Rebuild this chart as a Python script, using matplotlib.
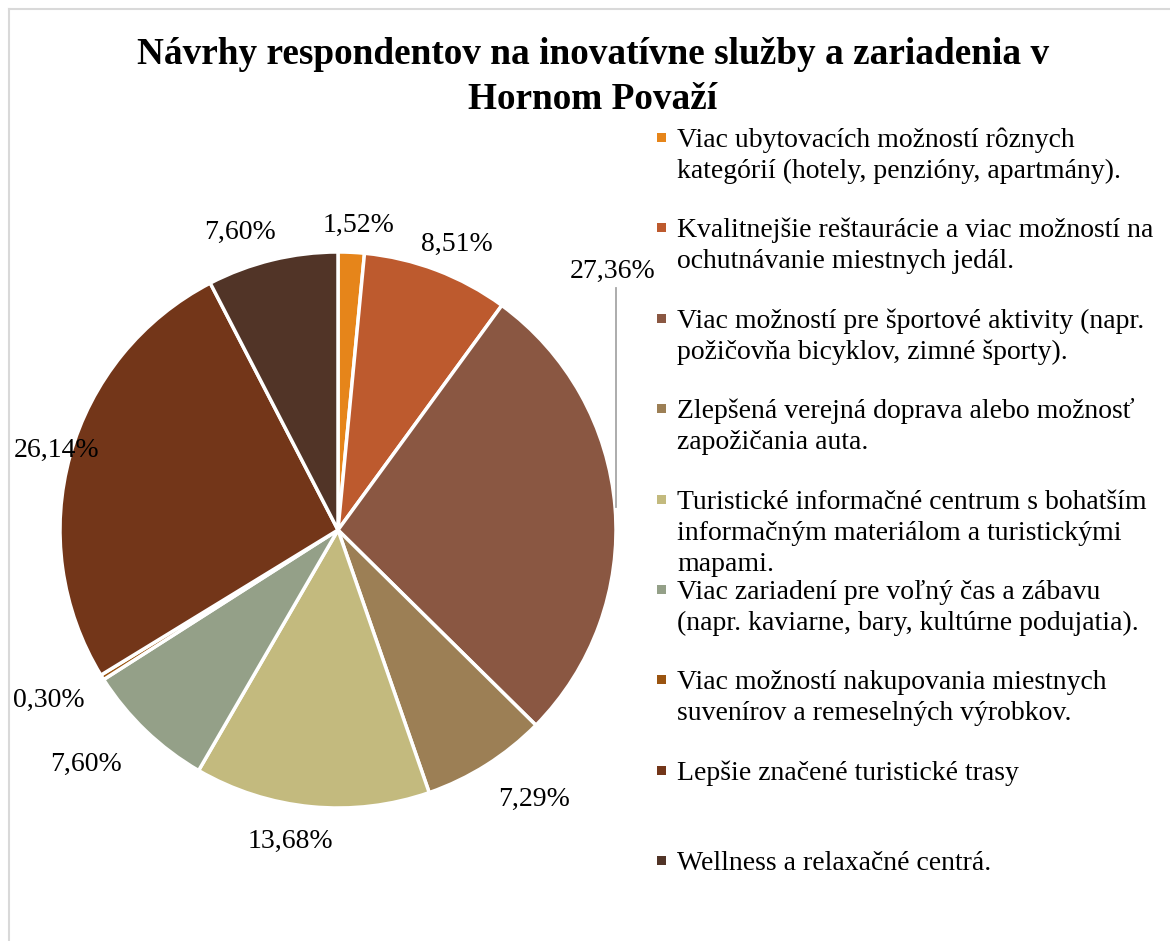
import numpy as np
import matplotlib
matplotlib.use("Agg")
import matplotlib.pyplot as plt
from matplotlib.lines import Line2D
from matplotlib.patches import Rectangle

# ---- data ----
categories = [
    "Viac ubytovacích možností rôznych\nkategórií (hotely, penzióny, apartmány).",
    "Kvalitnejšie reštaurácie a viac možností na\nochutnávanie miestnych jedál.",
    "Viac možností pre športové aktivity (napr.\npožičovňa bicyklov, zimné športy).",
    "Zlepšená verejná doprava alebo možnosť\nzapožičania auta.",
    "Turistické informačné centrum s bohatším\ninformačným materiálom a turistickými\nmapami.",
    "Viac zariadení pre voľný čas a zábavu\n(napr. kaviarne, bary, kultúrne podujatia).",
    "Viac možností nakupovania miestnych\nsuvenírov a remeselných výrobkov.",
    "Lepšie značené turistické trasy",
    "Wellness a relaxačné centrá.",
]
values = [1.52, 8.51, 27.36, 7.29, 13.68, 7.60, 0.30, 26.14, 7.60]
value_labels = ["1,52%", "8,51%", "27,36%", "7,29%", "13,68%", "7,60%", "0,30%", "26,14%", "7,60%"]
title = "Návrhy respondentov na inovatívne služby a zariadenia v\nHornom Považí"

# ---- style ----
colors = ["#E6851A", "#BD5A2E", "#8A5742", "#9C7F55", "#C3BA7E",
          "#94A088", "#9A5410", "#733619", "#513427"]
# label placement: (radius factor, angular offset in degrees, clockwise positive)
label_dist = [1.11, 1.124, None, 1.19, 1.12, 1.23, 1.20, 1.054, 1.139]
label_off = [1.0, 1.6, 0.0, -4.1, 3.4, 3.8, 2.0, 0.9, -4.3]

W, H = 1170, 941
plt.rcParams['font.family'] = ['Liberation Serif', 'DejaVu Serif']
fig = plt.figure(figsize=(W / 100, H / 100), dpi=100)
ax = fig.add_axes([0, 0, 1, 1])

cx, cy, R = 338, H - 530, 278
wedges, _ = ax.pie(values, colors=colors, startangle=90, counterclock=False,
                   center=(cx, cy), radius=R, frame=True,
                   wedgeprops=dict(edgecolor='white', linewidth=2.5))
ax.set_xlim(0, W)
ax.set_ylim(0, H)
ax.set_aspect('equal')
ax.axis('off')

fs = 20
for w, lab, d, off in zip(wedges, value_labels, label_dist, label_off):
    ang = np.deg2rad((w.theta1 + w.theta2) / 2 - off)
    px, py = cx + R * np.cos(ang), cy + R * np.sin(ang)
    if d is None:
        # label with leader line
        lx = px + 1
        ly = H - 288
        ax.plot([lx, lx], [py, ly], color='#A6A6A6', lw=1.3)
        ax.text(lx - 3, ly + 4, lab, ha='center', va='bottom', fontsize=fs)
    else:
        ax.text(cx + d * R * np.cos(ang), cy + d * R * np.sin(ang) - 3.5, lab,
                ha='center', va='center', fontsize=fs)

# title
fig.text(593 / W, 1 - 77 / H, title, ha='center', va='center',
         fontsize=26.8, fontweight='bold', linespacing=1.36)

# legend (manual, fixed spacing like the original)
y0 = 137.5
step = 90.4
line_step = 31
for i, (lab, c) in enumerate(zip(categories, colors)):
    y = y0 + i * step
    ax.add_patch(Rectangle((657, H - y - 4.5), 9, 9, facecolor=c, edgecolor='none'))
    for k, line in enumerate(lab.split("\n")):
        ax.text(677, H - (y + 9.5 + k * line_step), line, ha='left',
                va='baseline', fontsize=fs)

# frame lines
ax.add_line(Line2D([9, W], [H - 9, H - 9], color='#D9D9D9', lw=1.5))
ax.add_line(Line2D([9, 9], [0, H - 9], color='#D9D9D9', lw=1.5))

fig.savefig("out.png", dpi=100)
